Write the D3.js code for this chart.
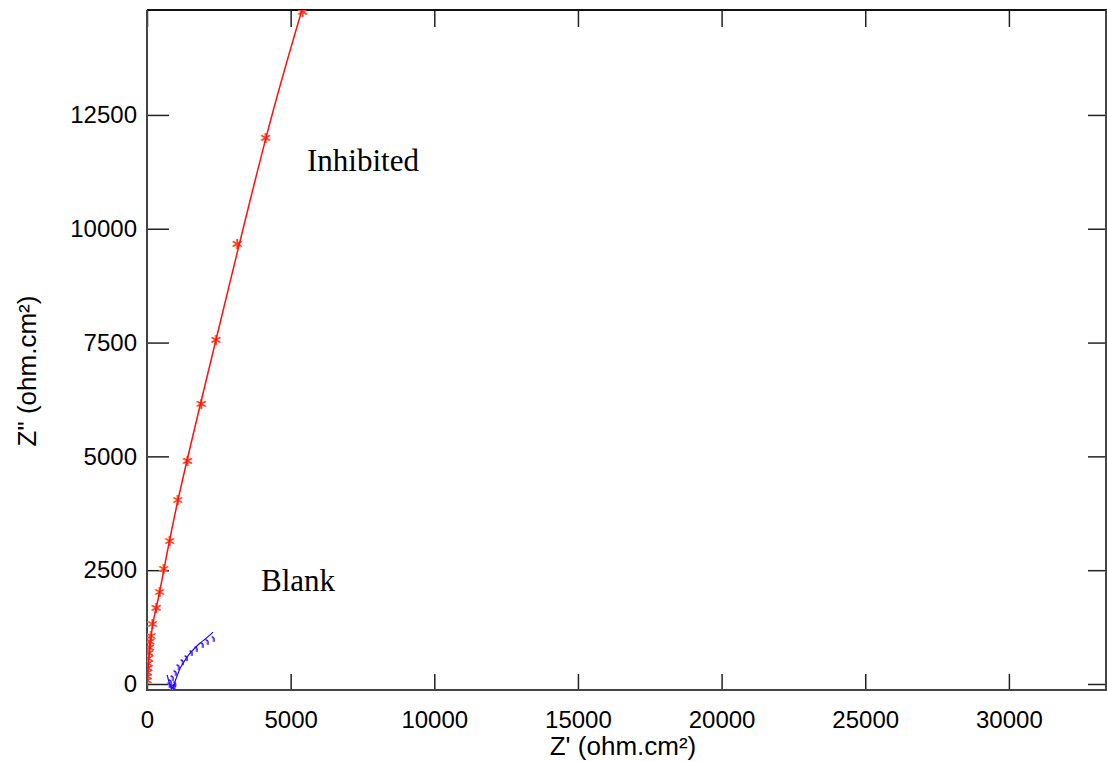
<!DOCTYPE html>
<html>
<head>
<meta charset="utf-8">
<script src="https://cdn.jsdelivr.net/npm/d3@7"></script>
<style>
  body { margin: 0; background: #fff; }
  svg { display: block; }
  .tick text { font-family: "Liberation Sans", Arial, sans-serif; font-size: 24px; fill: #000; }
</style>
</head>
<body>
<div class="canvas"></div>
<script>
// fitted curves and measured points, Z' vs Z'' (ohm.cm2)
var inhibitedFitX = [0, 70, 209, 452, 1079, 2401, 4141, 5498];
var inhibitedFitY = [0, 593, 1340, 2065, 4042, 7558, 11996, 15027];
var inhibitedX = [8, 15, 24, 35, 46, 58, 72, 90, 110, 150, 200, 330, 452, 592, 800, 1079, 1420, 1900, 2410, 3150, 4140, 5428];
var inhibitedY = [80, 160, 250, 350, 450, 560, 680, 800, 930, 1054, 1318, 1670, 2021, 2526, 3141, 4042, 4899, 6151, 7557, 9666, 11995, 14763];

var blankFitX = [700, 760, 820, 870, 930, 980, 1050, 1150, 1300, 1450, 1650, 1850, 2050, 2300];
var blankFitY = [200, 60, -60, -95, -40, 60, 180, 340, 500, 640, 780, 900, 1000, 1140];
var blankX = [760, 820, 880, 930, 960, 800, 870, 974, 1079, 1218, 1357, 1531, 1705, 1914, 2088, 2297];
var blankY = [-40, -80, -90, -70, -20, 22, 110, 220, 351, 461, 549, 659, 747, 835, 901, 967];

var xTicks = [0, 5000, 10000, 15000, 20000, 25000, 30000];
var yTicks = [0, 2500, 5000, 7500, 10000, 12500];

drawChart();

function drawChart() {
  var width = 1107, height = 762;
  var pLeft = 147, pRight = 1106, pTop = 10, pBottom = 690;

  var svg = d3.select('.canvas').append('svg')
    .attr('width', width)
    .attr('height', height);

  var x = d3.scaleLinear().domain([0, 33380]).range([pLeft, pRight]);
  var y = d3.scaleLinear().domain([-132, 14805]).range([pBottom, pTop]);

  svg.append('defs').append('clipPath').attr('id', 'plot')
    .append('rect').attr('x', pLeft).attr('y', pTop).attr('width', pRight - pLeft).attr('height', pBottom - pTop);

  function styleAxis(g) {
    g.select('.domain').remove();
    g.selectAll('line').attr('stroke', '#222').attr('stroke-width', 1.5);
  }

  // axes with inward ticks
  svg.append('g').attr('transform', 'translate(0,' + pBottom + ')')
    .call(d3.axisBottom(x).tickValues(xTicks).tickSize(-16).tickPadding(21).tickFormat(d3.format('d')))
    .call(styleAxis);
  svg.append('g').attr('transform', 'translate(0,' + pTop + ')')
    .call(d3.axisTop(x).tickValues(xTicks).tickSize(-17).tickFormat(''))
    .call(styleAxis);
  svg.append('g').attr('transform', 'translate(' + pLeft + ',0)')
    .call(d3.axisLeft(y).tickValues(yTicks).tickSize(-22).tickPadding(10).tickFormat(d3.format('d')))
    .call(styleAxis);
  svg.append('g').attr('transform', 'translate(' + pRight + ',0)')
    .call(d3.axisRight(y).tickValues(yTicks).tickSize(-18).tickFormat(''))
    .call(styleAxis);

  // frame
  svg.append('line').attr('x1', pLeft).attr('x2', pRight + 2).attr('y1', pTop).attr('y2', pTop).attr('stroke', '#111').attr('stroke-width', 2);
  svg.append('line').attr('x1', pLeft).attr('x2', pRight + 2).attr('y1', pBottom).attr('y2', pBottom).attr('stroke', '#444').attr('stroke-width', 2);
  svg.append('line').attr('x1', pLeft).attr('x2', pLeft).attr('y1', pTop).attr('y2', pBottom + 1).attr('stroke', '#444').attr('stroke-width', 2);
  svg.append('line').attr('x1', pRight).attr('x2', pRight).attr('y1', pTop).attr('y2', pBottom).attr('stroke', '#444').attr('stroke-width', 2);

  var plot = svg.append('g').attr('clip-path', 'url(#plot)');
  var line = d3.line().x(function(d) { return x(d[0]); }).y(function(d) { return y(d[1]); });

  // blank markers (small hooks)
  var hook = 'M-1,-3Q2,-3 1,2';
  var blankPts = d3.zip(blankX, blankY);
  plot.selectAll('.bm2').data(blankPts).enter().append('path')
    .attr('transform', function(d) { return 'translate(' + (x(d[0]) - 1) + ',' + y(d[1]) + ')'; })
    .attr('d', hook)
    .attr('fill', 'none').attr('stroke', '#d070ff').attr('stroke-width', 1.3);
  plot.selectAll('.bm').data(blankPts).enter().append('path')
    .attr('transform', function(d) { return 'translate(' + x(d[0]) + ',' + y(d[1]) + ')'; })
    .attr('d', hook)
    .attr('fill', 'none').attr('stroke', '#2020ff').attr('stroke-width', 1.3);

  plot.append('path').datum(d3.zip(blankFitX, blankFitY))
    .attr('d', line.curve(d3.curveCatmullRom)).attr('fill', 'none').attr('stroke', '#1010ff').attr('stroke-width', 1.2);

  // inhibited markers (asterisks)
  var star = 'M0,-5L0,5M-4.3,-2.5L4.3,2.5M-4.3,2.5L4.3,-2.5';
  var inhPts = d3.zip(inhibitedX, inhibitedY);
  plot.selectAll('.im2').data(inhPts).enter().append('path')
    .attr('transform', function(d) { return 'translate(' + (x(d[0]) - 1) + ',' + y(d[1]) + ')'; })
    .attr('d', star).attr('stroke', '#ffa040').attr('stroke-width', 1.4);
  plot.selectAll('.im').data(inhPts).enter().append('path')
    .attr('transform', function(d) { return 'translate(' + x(d[0]) + ',' + y(d[1]) + ')'; })
    .attr('d', star).attr('stroke', '#ff3838').attr('stroke-width', 1.4);

  plot.append('path').datum(d3.zip(inhibitedFitX, inhibitedFitY))
    .attr('d', line.curve(d3.curveNatural)).attr('fill', 'none').attr('stroke', '#ff1010').attr('stroke-width', 1.5);

  // labels
  svg.append('text').attr('x', 307).attr('y', 171)
    .style('font-family', '"Liberation Serif", "Times New Roman", serif').style('font-size', '31px')
    .text('Inhibited');
  svg.append('text').attr('x', 261).attr('y', 591)
    .style('font-family', '"Liberation Serif", "Times New Roman", serif').style('font-size', '31px')
    .text('Blank');

  svg.append('text').attr('x', 623).attr('y', 755).attr('text-anchor', 'middle')
    .style('font-family', '"Liberation Sans", Arial, sans-serif').style('font-size', '26px')
    .text("Z' (ohm.cm²)");
  svg.append('text').attr('transform', 'translate(36,371) rotate(-90)').attr('text-anchor', 'middle')
    .style('font-family', '"Liberation Sans", Arial, sans-serif').style('font-size', '26px')
    .text('Z" (ohm.cm²)');
}
</script>
</body>
</html>
